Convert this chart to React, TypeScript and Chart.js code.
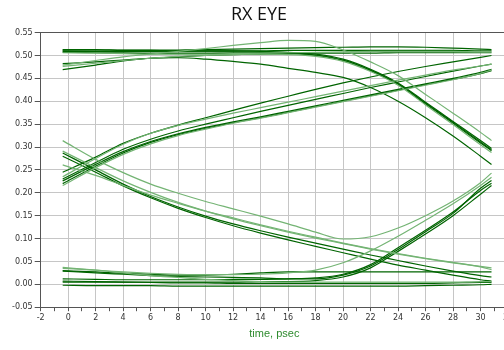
import { useEffect, useRef } from 'react';
import { Chart, registerables } from 'chart.js';
Chart.register(...registerables);

// sample times (psec)
const T = [-0.4, 2, 4, 6, 8, 10, 12, 14, 16, 18, 20, 22, 24, 26, 28, 30, 30.8];

// high level traces
const highFlat1 = [0.513, 0.513, 0.512, 0.512, 0.512, 0.513, 0.514, 0.515, 0.516, 0.517, 0.518, 0.519, 0.519, 0.518, 0.516, 0.514, 0.513];
const highFlat2 = [0.509, 0.509, 0.509, 0.509, 0.51, 0.51, 0.51, 0.51, 0.511, 0.511, 0.511, 0.511, 0.511, 0.511, 0.511, 0.51, 0.51];
const highFlat3 = [0.506, 0.505, 0.504, 0.503, 0.503, 0.503, 0.504, 0.505, 0.506, 0.507, 0.508, 0.509, 0.509, 0.509, 0.509, 0.508, 0.508];
const settleHigh = [0.482, 0.486, 0.49, 0.494, 0.497, 0.5, 0.502, 0.503, 0.504, 0.505, 0.505, 0.505, 0.506, 0.506, 0.506, 0.506, 0.506];

// high -> falling traces
const fallBump = [0.479, 0.489, 0.497, 0.503, 0.509, 0.515, 0.522, 0.528, 0.533, 0.531, 0.512, 0.486, 0.456, 0.415, 0.374, 0.332, 0.314];
const fallSlow = [0.469, 0.479, 0.488, 0.494, 0.495, 0.492, 0.487, 0.481, 0.472, 0.463, 0.452, 0.43, 0.4, 0.364, 0.324, 0.28, 0.262];
const fall1 = [0.512, 0.512, 0.511, 0.511, 0.51, 0.51, 0.51, 0.509, 0.507, 0.503, 0.492, 0.47, 0.44, 0.398, 0.356, 0.314, 0.297];
const fall2 = [0.507, 0.506, 0.505, 0.504, 0.504, 0.504, 0.505, 0.505, 0.504, 0.5, 0.489, 0.467, 0.437, 0.394, 0.352, 0.309, 0.292];
const fall3 = [0.476, 0.483, 0.489, 0.494, 0.498, 0.5, 0.502, 0.503, 0.502, 0.498, 0.487, 0.465, 0.435, 0.392, 0.349, 0.305, 0.288];
const fall4 = [0.51, 0.509, 0.508, 0.508, 0.508, 0.508, 0.508, 0.507, 0.505, 0.501, 0.49, 0.468, 0.438, 0.396, 0.354, 0.311, 0.294];

// rising traces (mid -> high)
const rise1 = [0.245, 0.278, 0.308, 0.33, 0.348, 0.364, 0.38, 0.396, 0.411, 0.426, 0.44, 0.453, 0.465, 0.476, 0.486, 0.496, 0.5];
const rise2 = [0.235, 0.275, 0.306, 0.33, 0.347, 0.361, 0.374, 0.386, 0.398, 0.41, 0.422, 0.434, 0.446, 0.457, 0.468, 0.477, 0.481];
const riseMid = [0.23, 0.266, 0.295, 0.317, 0.335, 0.35, 0.364, 0.378, 0.391, 0.404, 0.417, 0.43, 0.442, 0.454, 0.466, 0.477, 0.481];
const rise3 = [0.226, 0.262, 0.29, 0.312, 0.329, 0.343, 0.355, 0.366, 0.378, 0.39, 0.402, 0.414, 0.426, 0.438, 0.45, 0.463, 0.47];
const rise4 = [0.216, 0.255, 0.284, 0.307, 0.325, 0.339, 0.352, 0.363, 0.375, 0.387, 0.399, 0.411, 0.423, 0.435, 0.447, 0.461, 0.468];
const rise5 = [0.22, 0.258, 0.287, 0.31, 0.327, 0.341, 0.353, 0.364, 0.376, 0.388, 0.4, 0.412, 0.424, 0.436, 0.448, 0.46, 0.467];

// dropping traces (mid -> low)
const turn1 = [0.314, 0.273, 0.244, 0.219, 0.199, 0.181, 0.165, 0.149, 0.132, 0.114, 0.099, 0.104, 0.123, 0.15, 0.182, 0.222, 0.243];
const drop1 = [0.291, 0.255, 0.226, 0.201, 0.179, 0.16, 0.143, 0.128, 0.114, 0.101, 0.089, 0.077, 0.066, 0.056, 0.047, 0.039, 0.036];
const drop2 = [0.287, 0.25, 0.219, 0.192, 0.169, 0.149, 0.132, 0.117, 0.103, 0.09, 0.077, 0.064, 0.052, 0.04, 0.029, 0.019, 0.016];
const drop3 = [0.28, 0.245, 0.215, 0.189, 0.166, 0.146, 0.128, 0.112, 0.097, 0.083, 0.069, 0.055, 0.042, 0.031, 0.02, 0.01, 0.007];
const drop4 = [0.261, 0.238, 0.216, 0.195, 0.177, 0.16, 0.145, 0.13, 0.116, 0.103, 0.09, 0.078, 0.067, 0.057, 0.048, 0.038, 0.032];

// low -> rising traces
const lowRise1 = [0.035, 0.031, 0.027, 0.024, 0.022, 0.021, 0.021, 0.022, 0.025, 0.031, 0.047, 0.073, 0.105, 0.14, 0.176, 0.216, 0.234];
const lowRise2 = [0.012, 0.011, 0.01, 0.01, 0.01, 0.01, 0.011, 0.011, 0.012, 0.014, 0.022, 0.043, 0.08, 0.118, 0.158, 0.205, 0.221];
const lowRise3 = [0.005, 0.005, 0.005, 0.005, 0.005, 0.005, 0.005, 0.006, 0.006, 0.008, 0.016, 0.036, 0.072, 0.11, 0.15, 0.197, 0.216];
const lowRise4 = [0.029, 0.025, 0.022, 0.019, 0.017, 0.016, 0.015, 0.014, 0.012, 0.012, 0.02, 0.04, 0.076, 0.115, 0.155, 0.21, 0.227];

// low flat traces
const lowFlat1 = [0.03, 0.027, 0.024, 0.022, 0.02, 0.02, 0.022, 0.025, 0.027, 0.027, 0.027, 0.027, 0.027, 0.027, 0.027, 0.027, 0.027];
const lowFlat2 = [0.037, 0.031, 0.025, 0.019, 0.015, 0.011, 0.008, 0.006, 0.005, 0.005, 0.005, 0.005, 0.005, 0.005, 0.005, 0.006, 0.006];
const lowFlat3 = [-0.002, -0.003, -0.003, -0.003, -0.004, -0.004, -0.004, -0.004, -0.004, -0.004, -0.004, -0.004, -0.004, -0.003, -0.002, -0.001, 0.0];
const lowFlat4 = [0.007, 0.006, 0.005, 0.004, 0.003, 0.003, 0.002, 0.002, 0.002, 0.002, 0.002, 0.002, 0.002, 0.002, 0.003, 0.004, 0.004];

const lightTraces = [highFlat3, fallBump, fall3, rise2, rise4, turn1, drop1, drop4, lowRise1, lowFlat2];
const darkTraces = [highFlat1, highFlat2, settleHigh, fallSlow, fall1, fall2, fall4, rise1, riseMid, rise3, rise5, drop2, drop3, lowRise2, lowRise3, lowRise4, lowFlat1, lowFlat3, lowFlat4];

const DARK = '#006400';
const LIGHT = '#74b474';

export default function App() {
  const ref = useRef<HTMLCanvasElement>(null);
  useEffect(() => {
    const mk = (vals: number[], color: string) => ({
      data: vals.map((v, i) => ({ x: T[i], y: v })),
      borderColor: color,
      borderWidth: 1.2,
      pointRadius: 0,
      fill: false,
      cubicInterpolationMode: 'monotone' as const,
    });
    const datasets = [
      ...lightTraces.map((v) => mk(v, LIGHT)),
      ...darkTraces.map((v) => mk(v, DARK)),
    ];
    const chart = new Chart(ref.current!, {
      type: 'line',
      data: { datasets },
      options: {
        responsive: false,
        animation: false,
        layout: { padding: { left: 10, right: 32, top: 0, bottom: 9 } },
        plugins: {
          legend: { display: false },
          tooltip: { enabled: false },
          title: {
            display: true,
            text: 'RX EYE',
            color: '#111',
            font: { family: 'Open Sans', size: 18, weight: 'normal' },
            padding: { top: 4, bottom: 7 },
          },
        },
        scales: {
          x: {
            type: 'linear',
            min: -2,
            max: 32,
            ticks: {
              stepSize: 1,
              autoSkip: false,
              maxRotation: 0,
              color: '#333',
              font: { family: 'DejaVu Sans', size: 8 },
              padding: 2,
              callback: (v: any) => (Math.round(v) % 2 === 0 ? String(Math.round(v)) : ''),
            },
            grid: {
              color: (c: any) => (c.tick && Math.round(c.tick.value) % 2 === 0 ? '#c6c6c6' : 'rgba(0,0,0,0)'),
              tickColor: '#555',
              tickLength: 4,
            },
            border: { color: '#555', width: 1 },
            title: {
              display: true,
              text: 'time, psec',
              color: '#2e8b2e',
              font: { family: 'Liberation Sans', size: 11 },
              padding: { top: 3, bottom: 0 },
            },
          },
          y: {
            type: 'linear',
            min: -0.05,
            max: 0.55,
            ticks: {
              stepSize: 0.05,
              color: '#333',
              font: { family: 'DejaVu Sans', size: 8 },
              padding: 2,
              callback: (v: any) => Number(v).toFixed(2),
            },
            grid: {
              color: (c: any) => (c.tick && Math.abs(c.tick.value - 0.55) < 1e-6 ? '#555' : '#c6c6c6'),
              tickColor: '#555',
              tickLength: 6,
            },
            border: { color: '#555', width: 1 },
          },
        },
      },
    });
    return () => chart.destroy();
  }, []);
  return (
    <div style={{ position: 'fixed', left: 0, top: 0, width: 504, height: 350, overflow: 'hidden', background: '#fff' }}>
      <canvas ref={ref} width={540} height={350} />
    </div>
  );
}
